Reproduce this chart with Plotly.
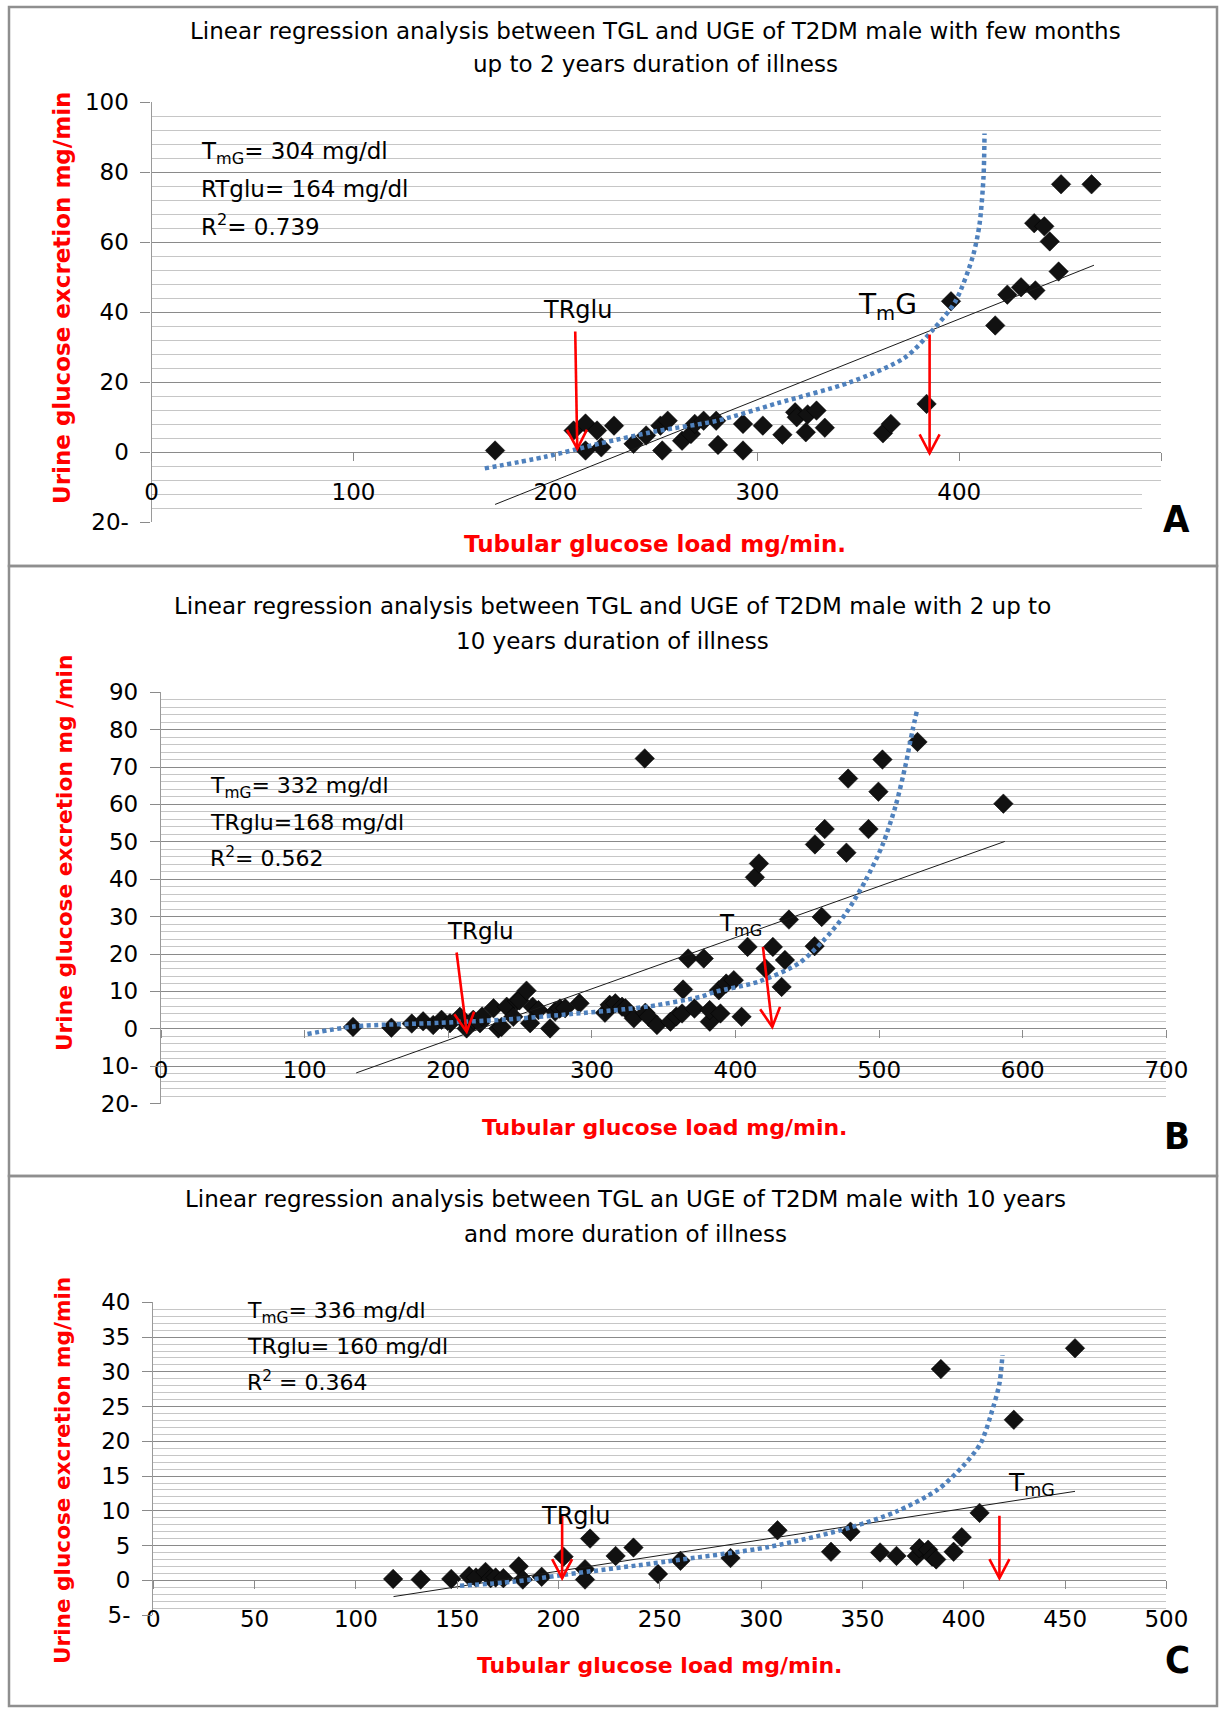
import math
import plotly.graph_objects as go

W, H = 1219, 1709

# ---------------- Panel A data ----------------
a_tgl = [170.1, 209.0, 214.9, 214.9, 220.6, 222.7, 229.0, 238.7, 244.9, 252.0, 252.9, 255.6,
         262.7, 267.1, 269.0, 273.4, 279.6, 280.5, 292.9, 292.9, 302.7, 312.4, 318.7, 319.5,
         324.0, 324.9, 329.3, 333.4, 362.2, 366.1, 383.8, 395.9, 417.8, 423.8, 430.6, 437.7,
         437.1, 442.1, 444.8, 449.2, 450.4, 465.5]
a_uge = [0.5, 6.2, 8.2, 0.5, 6.2, 1.4, 7.6, 2.4, 4.8, 7.6, 0.5, 9.0,
         3.3, 5.2, 8.1, 9.0, 9.0, 2.1, 8.1, 0.5, 7.6, 5.0, 11.4, 10.0,
         5.7, 10.8, 11.9, 7.0, 5.4, 8.1, 13.8, 43.1, 36.2, 45.0, 47.1, 46.2,
         65.4, 64.5, 60.2, 51.6, 76.5, 76.5]
a_lin_x = [170.1, 466.7]
a_lin_y = [-14.9, 53.4]
a_fit_x = [165, 195, 222, 250, 280, 310, 346, 373, 387, 398, 406.6, 410, 412, 412.5]
a_fit_y = [-4.6, -1.3, 2.5, 6.0, 9.0, 14.0, 20.0, 27.0, 35.0, 43.0, 55.7, 65.0, 78.6, 91.0]

# ---------------- Panel B data ----------------
b_tgl = [133.7, 160.4, 174.6, 182.5, 189.5, 195.3, 201.2, 208.1, 212.8, 217.4, 222.1, 223.6,
         231.5, 234.9, 237.1, 240.7, 245.3, 247.9, 249.5, 254.5, 257.0, 258.8, 262.8, 270.9,
         274.4, 277.7, 281.4, 291.4, 309.1, 312.4, 316.3, 321.0, 323.3, 329.2, 336.8, 337.2,
         339.5, 345.3, 354.7, 358.8, 362.8, 363.5, 367.0, 371.4, 377.9, 382.1, 382.0, 388.4,
         389.5, 393.5, 398.8, 404.2, 408.4, 413.5, 416.3, 420.9, 426.0, 432.1, 434.4, 437.2,
         455.1, 455.3, 460.0, 462.1, 477.2, 478.4, 492.6, 499.5, 502.3, 526.7, 586.5]
b_uge = [0.5, 0.3, 1.4, 2.0, 1.0, 2.4, 1.5, 3.2, 0.1, 2.4, 1.5, 3.3,
         5.5, 0.1, 0.5, 5.9, 3.2, 7.4, 7.6, 10.2, 1.5, 5.9, 5.0, 0.1,
         4.6, 5.4, 5.5, 6.8, 4.3, 6.4, 6.8, 5.9, 5.5, 2.8, 72.3, 4.3,
         3.2, 1.0, 1.9, 3.3, 4.1, 10.5, 18.8, 5.4, 18.8, 1.9, 5.0, 10.3,
         4.1, 12.1, 13.0, 3.2, 21.9, 40.5, 44.2, 16.1, 21.9, 11.2, 18.4, 29.2,
         22.1, 49.3, 29.9, 53.4, 47.1, 66.9, 53.4, 63.4, 72.0, 76.7, 60.2]
b_lin_x = [135.9, 587.5]
b_lin_y = [-11.8, 50.1]
b_fit_x = [102, 134, 194, 241, 287, 322, 340, 376, 386, 416, 444, 460.5, 476.7, 490.7,
           502.3, 511.6, 518.6, 523.3, 526.3]
b_fit_y = [-1.4, 0.6, 1.6, 2.5, 4.0, 5.2, 6.0, 8.6, 9.9, 12.6, 17.5, 23.3, 30.8, 39.8,
           49.1, 59.8, 70.9, 79.9, 85.0]

# ---------------- Panel C data ----------------
c_tgl = [118.4, 132.0, 147.1, 155.9, 159.3, 164.0, 166.5, 169.0, 172.8, 180.4, 182.4, 191.7,
         202.5, 213.1, 213.1, 215.6, 228.2, 237.0, 249.1, 260.2, 284.9, 308.1, 334.5, 344.1,
         358.7, 366.8, 376.8, 378.1, 382.4, 384.4, 386.4, 388.7, 395.0, 399.0, 407.8, 424.7,
         454.9]
c_uge = [0.2, 0.1, 0.2, 0.6, 0.4, 1.2, 0.3, 0.4, 0.3, 2.0, 0.1, 0.5,
         3.4, 1.6, 0.1, 6.0, 3.5, 4.7, 0.9, 2.8, 3.2, 7.2, 4.1, 7.0,
         4.0, 3.5, 3.5, 4.6, 4.4, 3.4, 3.0, 30.4, 4.1, 6.2, 9.7, 23.1,
         33.4]
c_lin_x = [118.6, 454.9]
c_lin_y = [-2.35, 12.8]
c_fit_x = [151.4, 177.8, 203, 253.4, 303.8, 344.1, 366.8, 386.9, 399.5, 408.3, 414.6, 417.6, 419.1]
c_fit_y = [-0.8, -0.2, 0.8, 2.7, 4.8, 7.6, 9.9, 13.0, 16.4, 19.7, 25.0, 28.3, 32.4]

# ---------------- Axis ticks / labels ----------------
a_xticks = [0, 100, 200, 300, 400, 500]
a_xticktext = ["0", "100", "200", "300", "400", ""]   # "500" is hidden behind the panel letter box
b_xticks = [0, 100, 200, 300, 400, 500, 600, 700]
b_xticktext = ["0", "100", "200", "300", "400", "500", "600", "700"]
c_xticks = [0, 50, 100, 150, 200, 250, 300, 350, 400, 450, 500]
c_xticktext = ["0", "50", "100", "150", "200", "250", "300", "350", "400", "450", "500"]
a_yticks = [-20, 0, 20, 40, 60, 80, 100]
a_yticktext = ["20-", "0", "20", "40", "60", "80", "100"]
b_yticks = [-20, -10, 0, 10, 20, 30, 40, 50, 60, 70, 80, 90]
b_yticktext = ["20-", "10-", "0", "10", "20", "30", "40", "50", "60", "70", "80", "90"]
c_yticks = [-5, 0, 5, 10, 15, 20, 25, 30, 35, 40]
c_yticktext = ["5-", "0", "5", "10", "15", "20", "25", "30", "35", "40"]

# ---------------- Texts ----------------
a_title = ["Linear regression analysis between TGL and UGE of T2DM male with few months",
           "up to 2 years duration of illness"]
b_title = ["Linear regression analysis between TGL and UGE of T2DM male with 2 up to",
           "10 years duration of illness"]
c_title = ["Linear regression analysis between TGL an UGE of T2DM male with 10 years",
           "and more duration of illness"]
a_stats = ["T<sub>mG</sub>= 304 mg/dl", "RTglu= 164 mg/dl", "R<sup>2</sup>= 0.739"]
b_stats = ["T<sub>mG</sub>= 332 mg/dl", "TRglu=168 mg/dl", "R<sup>2</sup>= 0.562"]
c_stats = ["T<sub>mG</sub>= 336 mg/dl", "TRglu= 160 mg/dl", "R<sup>2</sup> = 0.364"]
a_ytitle = "Urine glucose excretion mg/min"
b_ytitle = "Urine glucose excretion mg /min"
c_ytitle = "Urine glucose excretion mg/min"
xtitle = "Tubular glucose load mg/min."
tr_label = "TRglu"
a_tm_label = "T<sub>m</sub>G"
bc_tm_label = "T<sub>mG</sub>"

# arrows: tail (x, y) -> tip (x, y)
a_arrows = [((209.8, 34.5), (210.8, 1.0)), ((385.3, 33.6), (385.3, -0.3))]
b_arrows = [((205.8, 20.4), (212.8, -0.8)), ((419.1, 21.9), (425.6, 0.5))]
c_arrows = [((201.8, 9.4), (201.8, 0.3)), ((417.6, 9.3), (417.6, 0.3))]

TXT = "DejaVu Sans"
NUM = "DejaVu Sans"
LETTER = "Liberation Sans Narrow, DejaVu Sans Condensed, Liberation Sans, sans-serif"
MAJOR = "#8a8a8a"
MINOR = "#c6c6c6"
RED = "#ff0000"
HEAD_BACK, HEAD_HALF = 19, 10   # arrow head size in pixels


def px(x):
    return x / W


def py(y):
    return 1 - y / H


panels = [
    dict(key="", tgl=a_tgl, uge=a_uge, lx=a_lin_x, ly=a_lin_y, fx=a_fit_x, fy=a_fit_y,
         xr=[0, 500], yr=[-20, 100], xticks=a_xticks, xticktext=a_xticktext,
         yticks=a_yticks, yticktext=a_yticktext,
         minor=4, dom_x=(151.6, 1161.2), dom_y=(102.0, 522.3), tickfs=23, xstand=11,
         title=a_title, title_x=655, title_y=(31, 64), title_fs=23,
         stats=a_stats, stats_x=23.4, stats_y=[85.3, 75.3, 65.0], stats_fs=23,
         ytitle=a_ytitle, ytitle_pos=(62, 298), ytitle_fs=23,
         xtitle_pos=(655, 544), xtitle_fs=23,
         tr=(211, 40.7), tr_fs=24, tm=a_tm_label, tm_pos=(364.6, 41.5), tm_fs=28,
         arrows=a_arrows, letter="A", letter_pos=(1176, 519)),
    dict(key="2", tgl=b_tgl, uge=b_uge, lx=b_lin_x, ly=b_lin_y, fx=b_fit_x, fy=b_fit_y,
         xr=[0, 700], yr=[-20, 90], xticks=b_xticks, xticktext=b_xticktext,
         yticks=b_yticks, yticktext=b_yticktext,
         minor=2, dom_x=(161.0, 1166.4), dom_y=(692.2, 1103.6), tickfs=23, xstand=13,
         title=b_title, title_x=612, title_y=(606, 641), title_fs=23,
         stats=b_stats, stats_x=32.9, stats_y=[64.4, 55.2, 46.0], stats_fs=22,
         ytitle=b_ytitle, ytitle_pos=(64, 853), ytitle_fs=21.7,
         xtitle_pos=(664, 1127), xtitle_fs=22,
         tr=(222.4, 26.1), tr_fs=23, tm=bc_tm_label, tm_pos=(403.2, 27.8), tm_fs=23,
         arrows=b_arrows, letter="B", letter_pos=(1177, 1136)),
    dict(key="3", tgl=c_tgl, uge=c_uge, lx=c_lin_x, ly=c_lin_y, fx=c_fit_x, fy=c_fit_y,
         xr=[0, 500], yr=[-5, 40], xticks=c_xticks, xticktext=c_xticktext,
         yticks=c_yticks, yticktext=c_yticktext,
         minor=1, dom_x=(153.2, 1166.4), dom_y=(1302.4, 1615.0), tickfs=23, xstand=10,
         title=c_title, title_x=625, title_y=(1198.5, 1234.3), title_fs=23,
         stats=c_stats, stats_x=45.3, stats_y=[38.5, 33.6, 28.7], stats_fs=22,
         ytitle=c_ytitle, ytitle_pos=(62, 1471), ytitle_fs=21.6,
         xtitle_pos=(659, 1665.5), xtitle_fs=22,
         tr=(208.4, 9.2), tr_fs=24, tm=bc_tm_label, tm_pos=(433.2, 13.8), tm_fs=25,
         arrows=c_arrows, letter="C", letter_pos=(1177.6, 1660)),
]

fig = go.Figure()
annotations = []
shapes = []
layout_axes = {}

for p in panels:
    k = p["key"]
    xa, ya = "x" + k, "y" + k
    # scatter points
    fig.add_trace(go.Scatter(x=p["tgl"], y=p["uge"], mode="markers", xaxis=xa, yaxis=ya,
                             marker=dict(symbol="diamond", size=15, color="#111111",
                                         line=dict(color="#000000", width=0.5)),
                             showlegend=False, hoverinfo="x+y"))
    # linear regression
    fig.add_trace(go.Scatter(x=p["lx"], y=p["ly"], mode="lines", xaxis=xa, yaxis=ya,
                             line=dict(color="#1a1a1a", width=1), showlegend=False))
    # dotted trend curve
    fig.add_trace(go.Scatter(x=p["fx"], y=p["fy"], mode="lines", xaxis=xa, yaxis=ya,
                             line=dict(color="#4f81bd", width=4.5, dash="4px,3.5px",
                                       shape="spline", smoothing=0.8),
                             showlegend=False))

    d0y, d1y = py(p["dom_y"][1]), py(p["dom_y"][0])
    r0, r1 = p["yr"]
    zero_pos = d0y + (0 - r0) / (r1 - r0) * (d1y - d0y)

    layout_axes["xaxis" + k] = dict(
        domain=[px(p["dom_x"][0]), px(p["dom_x"][1])], range=p["xr"], anchor="free",
        position=zero_pos, tickmode="array", tickvals=p["xticks"], ticktext=p["xticktext"],
        ticks="outside", ticklen=8, tickcolor=MAJOR, tickwidth=1.2,
        showgrid=False, zeroline=False, showline=False,
        tickfont=dict(family=NUM, size=p["tickfs"], color="#000000"),
        ticklabelstandoff=p["xstand"], automargin=False, fixedrange=True)
    layout_axes["yaxis" + k] = dict(
        domain=[d0y, d1y], range=p["yr"], anchor=xa,
        tickmode="array", tickvals=p["yticks"], ticktext=p["yticktext"],
        ticks="outside", ticklen=10, tickcolor=MAJOR, tickwidth=1.2,
        showgrid=True, gridcolor=MAJOR, gridwidth=1.3,
        minor=dict(dtick=p["minor"], tick0=0, showgrid=True, gridcolor=MINOR, gridwidth=1.4,
                   ticks=""),
        zeroline=False, showline=True, linecolor="#9a9a9a", linewidth=1.3,
        tickfont=dict(family=NUM, size=p["tickfs"], color="#000000"),
        ticklabelstandoff=7, automargin=False, fixedrange=True)

    # title lines
    for line, yy in zip(p["title"], p["title_y"]):
        annotations.append(dict(text=line, x=px(p["title_x"]), y=py(yy), xref="paper", yref="paper",
                                xanchor="center", yanchor="middle", showarrow=False,
                                font=dict(family=TXT, size=p["title_fs"], color="#000000")))
    # stats lines
    for line, yy in zip(p["stats"], p["stats_y"]):
        annotations.append(dict(text=line, x=p["stats_x"], y=yy, xref=xa, yref=ya,
                                xanchor="left", yanchor="middle", showarrow=False,
                                font=dict(family=TXT, size=p["stats_fs"], color="#000000")))
    # axis titles
    annotations.append(dict(text=p["ytitle"], x=px(p["ytitle_pos"][0]), y=py(p["ytitle_pos"][1]),
                            xref="paper", yref="paper", textangle=-90, showarrow=False,
                            xanchor="center", yanchor="middle",
                            font=dict(family=TXT, size=p["ytitle_fs"], color=RED, weight="bold")))
    annotations.append(dict(text=xtitle, x=px(p["xtitle_pos"][0]), y=py(p["xtitle_pos"][1]),
                            xref="paper", yref="paper", showarrow=False,
                            xanchor="center", yanchor="middle",
                            font=dict(family=TXT, size=p["xtitle_fs"], color=RED, weight="bold")))
    # TRglu / TmG labels
    annotations.append(dict(text=tr_label, x=p["tr"][0], y=p["tr"][1], xref=xa, yref=ya,
                            showarrow=False, xanchor="center", yanchor="middle",
                            font=dict(family=TXT, size=p["tr_fs"], color="#000000")))
    annotations.append(dict(text=p["tm"], x=p["tm_pos"][0], y=p["tm_pos"][1], xref=xa, yref=ya,
                            showarrow=False, xanchor="center", yanchor="middle",
                            font=dict(family=TXT, size=p["tm_fs"], color="#000000")))

    # red arrows: shaft + open "V" head, drawn as shapes in data coordinates
    sx = (p["dom_x"][1] - p["dom_x"][0]) / (p["xr"][1] - p["xr"][0])   # px per x unit
    sy = (p["dom_y"][1] - p["dom_y"][0]) / (p["yr"][1] - p["yr"][0])   # px per y unit
    for (tx, ty), (hx, hy) in p["arrows"]:
        shapes.append(dict(type="line", xref=xa, yref=ya, x0=tx, y0=ty, x1=hx, y1=hy,
                           line=dict(color=RED, width=2.6), layer="above"))
        # direction (tail -> tip) in pixel space (screen y downwards)
        dxp, dyp = (hx - tx) * sx, -(hy - ty) * sy
        n = math.hypot(dxp, dyp)
        ux, uy = dxp / n, dyp / n
        pts = []
        for sgn in (-1, 1):
            ex = -ux * HEAD_BACK + sgn * (-uy) * HEAD_HALF
            ey = -uy * HEAD_BACK + sgn * ux * HEAD_HALF
            pts.append((hx + ex / sx, hy - ey / sy))
        path = "M {:.3f},{:.3f} L {:.3f},{:.3f} L {:.3f},{:.3f}".format(
            pts[0][0], pts[0][1], hx, hy, pts[1][0], pts[1][1])
        shapes.append(dict(type="path", xref=xa, yref=ya, path=path,
                           line=dict(color=RED, width=2.6), layer="above"))

    # panel letter
    annotations.append(dict(text="<b>" + p["letter"] + "</b>", x=px(p["letter_pos"][0]),
                            y=py(p["letter_pos"][1]), xref="paper", yref="paper",
                            showarrow=False, xanchor="center", yanchor="middle",
                            font=dict(family=LETTER, size=38, color="#000000")))

# white box that cuts panel A's bottom-right corner, as in the original
shapes.append(dict(type="rect", xref="paper", yref="paper", x0=px(1142), x1=px(1212),
                   y0=py(562), y1=py(487), fillcolor="white", line=dict(width=0), layer="above"))
# panel frames
for top, bottom in [(7, 566), (566, 1176), (1176, 1706)]:
    shapes.append(dict(type="rect", xref="paper", yref="paper", x0=px(9), x1=px(1217),
                       y0=py(bottom), y1=py(top), line=dict(color="#8f8f8f", width=2.5),
                       fillcolor="rgba(0,0,0,0)", layer="above"))

fig.update_layout(width=W, height=H, margin=dict(l=0, r=0, t=0, b=0),
                  paper_bgcolor="white", plot_bgcolor="white", showlegend=False,
                  annotations=annotations, shapes=shapes, **layout_axes)

fig.write_html("out.html", config={"displayModeBar": False, "staticPlot": False},
               post_script="document.body.style.margin='0px';")
